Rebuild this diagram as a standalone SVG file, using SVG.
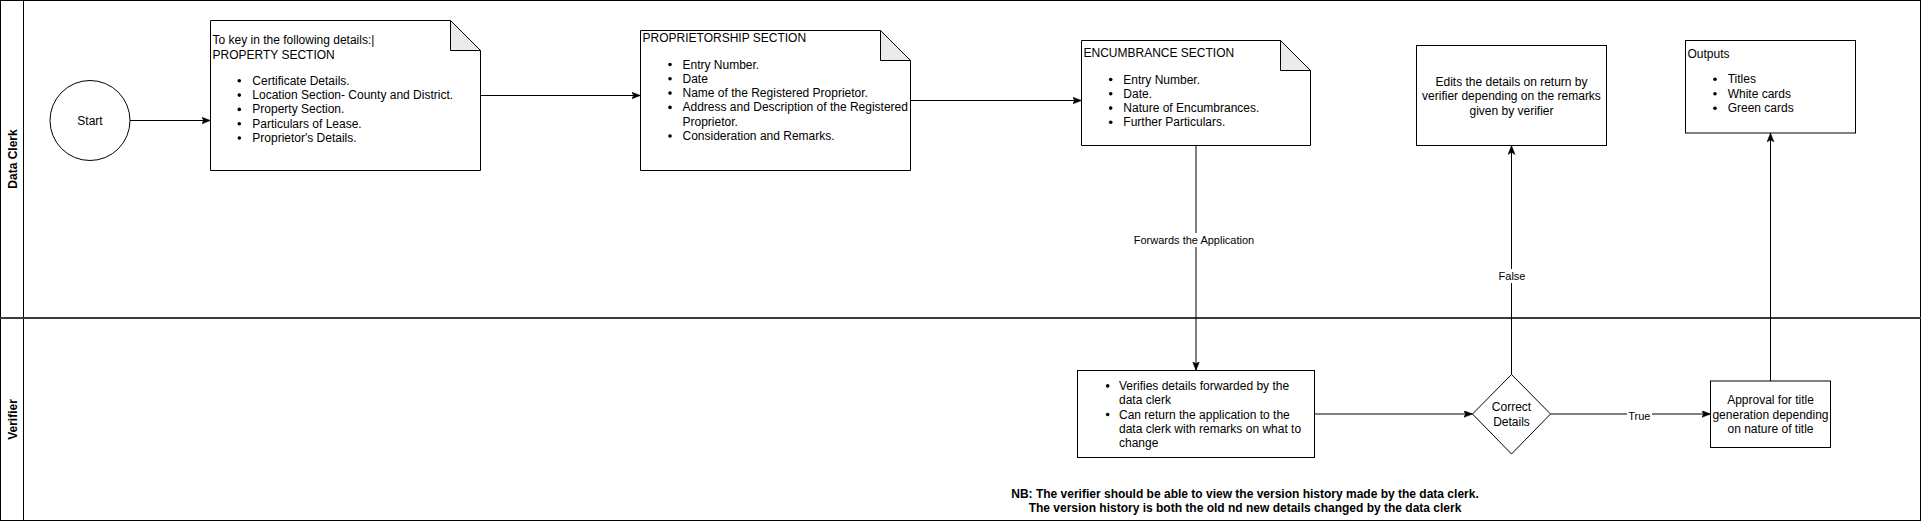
<svg xmlns="http://www.w3.org/2000/svg" width="1921" height="521" viewBox="0 0 1921 521">
<style>
text{font-family:"Liberation Sans",Arial,Helvetica,sans-serif;font-size:12px;fill:#000}
.b{font-weight:bold}
.lbl{font-size:11px}
.c{text-anchor:middle}
.shape{fill:#fff;stroke:#000;stroke-width:1}
.fold{fill:#ebebeb;stroke:#000;stroke-width:1;stroke-linejoin:round}
.edge{fill:none;stroke:#000;stroke-width:1}
.lane{fill:none;stroke:#000;stroke-width:1}
</style>
<defs>
<marker id="arr" markerUnits="userSpaceOnUse" markerWidth="10" markerHeight="10" refX="9" refY="3.5" orient="auto">
<path d="M0,0 L9,3.5 L0,7 L2.2,3.5 Z" fill="#000" stroke="#000" stroke-width="0.5"/>
</marker>
</defs>
<rect width="1921" height="521" fill="#fff"/>
<g id="lanes">
<rect class="lane" x="0.5" y="0.5" width="1920" height="520"/>
<line class="lane" x1="23.5" y1="0" x2="23.5" y2="521"/>
<line x1="0" y1="318" x2="1921" y2="318" stroke="#3a3a3a" stroke-width="2"/>
<text class="b c" transform="translate(12.2,159) rotate(-90)" x="0" y="4.3">Data Clerk</text>
<text class="b c" transform="translate(12.2,419.5) rotate(-90)" x="0" y="4.3">Verifier</text>
</g>
<g id="connectors">
<path class="edge" d="M130,120.5 H210.5" marker-end="url(#arr)"/>
<path class="edge" d="M480.5,95.5 H640.5" marker-end="url(#arr)"/>
<path class="edge" d="M910.5,100.5 H1081.5" marker-end="url(#arr)"/>
<path class="edge" d="M1196,145.5 V370.5" marker-end="url(#arr)"/>
<path class="edge" d="M1314.5,414 H1472.5" marker-end="url(#arr)"/>
<path class="edge" d="M1511.5,374.5 V145.5" marker-end="url(#arr)"/>
<path class="edge" d="M1550.5,414 H1710.5" marker-end="url(#arr)"/>
<path class="edge" d="M1770.5,381 V133" marker-end="url(#arr)"/>
<rect x="1133" y="233" width="122" height="14" fill="#fff"/>
<text class="lbl c" x="1194" y="244">Forwards the Application</text>
<rect x="1498" y="269" width="27" height="14" fill="#fff"/>
<text class="lbl c" x="1512" y="280">False</text>
<rect x="1627" y="408" width="25" height="14" fill="#fff"/>
<text class="lbl c" x="1639.3" y="419.5">True</text>
</g>
<g id="start">
<circle class="shape" cx="90" cy="120.5" r="40"/>
<text class="c" x="90" y="124.6">Start</text>
</g>
<g id="property-section">
<path class="shape" d="M210.5,20.5 H450.5 L480.5,50.5 V170.5 H210.5 Z"/>
<path class="fold" d="M450.5,20.5 V50.5 H480.5 Z"/>
<text x="212.5" y="44.3">To key in the following details:|</text>
<text x="212.5" y="58.6">PROPERTY SECTION</text>
<g fill="#000">
<circle cx="239.3" cy="80.8" r="1.8"/><circle cx="239.3" cy="95.1" r="1.8"/><circle cx="239.3" cy="109.4" r="1.8"/><circle cx="239.3" cy="123.7" r="1.8"/><circle cx="239.3" cy="138" r="1.8"/>
</g>
<text x="252.3" y="84.8">Certificate Details.</text>
<text x="252.3" y="99.1">Location Section- County and District.</text>
<text x="252.3" y="113.4">Property Section.</text>
<text x="252.3" y="127.7">Particulars of Lease.</text>
<text x="252.3" y="142">Proprietor's Details.</text>
</g>
<g id="proprietorship-section">
<path class="shape" d="M640.5,30.5 H880.5 L910.5,60.5 V170.5 H640.5 Z"/>
<path class="fold" d="M880.5,30.5 V60.5 H910.5 Z"/>
<text x="642.5" y="41.9">PROPRIETORSHIP SECTION</text>
<g fill="#000">
<circle cx="670" cy="64.5" r="1.8"/><circle cx="670" cy="78.8" r="1.8"/><circle cx="670" cy="93.1" r="1.8"/><circle cx="670" cy="107.4" r="1.8"/><circle cx="670" cy="136" r="1.8"/>
</g>
<text x="682.5" y="68.5">Entry Number.</text>
<text x="682.5" y="82.8">Date</text>
<text x="682.5" y="97.1">Name of the Registered Proprietor.</text>
<text x="682.5" y="111.4">Address and Description of the Registered</text>
<text x="682.5" y="125.7">Proprietor.</text>
<text x="682.5" y="140">Consideration and Remarks.</text>
</g>
<g id="encumbrance-section">
<path class="shape" d="M1081.5,40.5 H1280.5 L1310.5,70.5 V145.5 H1081.5 Z"/>
<path class="fold" d="M1280.5,40.5 V70.5 H1310.5 Z"/>
<text x="1083.5" y="56.9">ENCUMBRANCE SECTION</text>
<g fill="#000">
<circle cx="1110.7" cy="79.5" r="1.8"/><circle cx="1110.7" cy="93.8" r="1.8"/><circle cx="1110.7" cy="108.1" r="1.8"/><circle cx="1110.7" cy="122.2" r="1.8"/>
</g>
<text x="1123.3" y="83.5">Entry Number.</text>
<text x="1123.3" y="97.8">Date.</text>
<text x="1123.3" y="112.1">Nature of Encumbrances.</text>
<text x="1123.3" y="126.2">Further Particulars.</text>
</g>
<g id="edits">
<rect class="shape" x="1416.5" y="45.5" width="190" height="100"/>
<text class="c" x="1511.5" y="85.9">Edits the details on return by</text>
<text class="c" x="1511.5" y="100.2">verifier depending on the remarks</text>
<text class="c" x="1511.5" y="114.5">given by verifier</text>
</g>
<g id="outputs">
<rect class="shape" x="1685.5" y="40.5" width="170" height="92.5"/>
<text x="1687.5" y="57.5">Outputs</text>
<g fill="#000">
<circle cx="1715" cy="79.3" r="1.8"/><circle cx="1715" cy="93.8" r="1.8"/><circle cx="1715" cy="108.3" r="1.8"/>
</g>
<text x="1727.7" y="83.3">Titles</text>
<text x="1727.7" y="97.8">White cards</text>
<text x="1727.7" y="112.3">Green cards</text>
</g>
<g id="verifies">
<rect class="shape" x="1077.5" y="370.5" width="237" height="87"/>
<g fill="#000">
<circle cx="1107.7" cy="385.9" r="1.8"/><circle cx="1107.7" cy="414.5" r="1.8"/>
</g>
<text x="1119" y="389.9">Verifies details forwarded by the</text>
<text x="1119" y="404.2">data clerk</text>
<text x="1119" y="418.5">Can return the application to the</text>
<text x="1119" y="432.8">data clerk with remarks on what to</text>
<text x="1119" y="447.1">change</text>
</g>
<g id="correct-details">
<path class="shape" d="M1511.5,374.5 L1550.5,414 L1511.5,454 L1472.5,414 Z"/>
<text class="c" x="1511.5" y="410.8">Correct</text>
<text class="c" x="1511.5" y="425.6">Details</text>
</g>
<g id="approval">
<rect class="shape" x="1710.5" y="381" width="120" height="66.5"/>
<text class="c" x="1770.5" y="404.2">Approval for title</text>
<text class="c" x="1770.5" y="418.5">generation depending</text>
<text class="c" x="1770.5" y="433">on nature of title</text>
</g>
<g id="note">
<text class="b c" x="1245" y="497.5">NB: The verifier should be able to view the version history made by the data clerk.</text>
<text class="b c" x="1245" y="511.9">The version history is both the old nd new details changed by the data clerk</text>
</g>
</svg>
